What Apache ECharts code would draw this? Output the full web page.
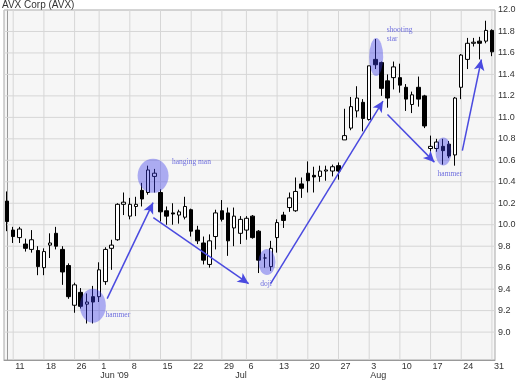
<!DOCTYPE html>
<html><head><meta charset="utf-8">
<script src="https://cdn.jsdelivr.net/npm/echarts@6/dist/echarts.min.js"></script>
<style>html,body{margin:0;padding:0;background:#fff}#c{width:520px;height:390px}</style>
</head><body><div id="c"></div>
<script>
const dates = [
 '2009-05-08','2009-05-11','2009-05-12','2009-05-13','2009-05-14','2009-05-15',
 '2009-05-18','2009-05-19','2009-05-20','2009-05-21','2009-05-22',
 '2009-05-26','2009-05-27','2009-05-28','2009-05-29',
 '2009-06-01','2009-06-02','2009-06-03','2009-06-04','2009-06-05',
 '2009-06-08','2009-06-09','2009-06-10','2009-06-11','2009-06-12',
 '2009-06-15','2009-06-16','2009-06-17','2009-06-18','2009-06-19',
 '2009-06-22','2009-06-23','2009-06-24','2009-06-25','2009-06-26',
 '2009-06-29','2009-06-30','2009-07-01','2009-07-02',
 '2009-07-06','2009-07-07','2009-07-08','2009-07-09','2009-07-10',
 '2009-07-13','2009-07-14','2009-07-15','2009-07-16','2009-07-17',
 '2009-07-20','2009-07-21','2009-07-22','2009-07-23','2009-07-24',
 '2009-07-27','2009-07-28','2009-07-29','2009-07-30','2009-07-31',
 '2009-08-03','2009-08-04','2009-08-05','2009-08-06','2009-08-07',
 '2009-08-10','2009-08-11','2009-08-12','2009-08-13','2009-08-14',
 '2009-08-17','2009-08-18','2009-08-19','2009-08-20','2009-08-21',
 '2009-08-24','2009-08-25','2009-08-26','2009-08-27','2009-08-28',
 '2009-08-31'];
const opens = [10.22,9.95,9.88,9.82,9.77,9.76,9.60,9.81,9.92,9.77,9.62,9.25,9.37,9.26,9.33,
 9.33,9.47,9.78,9.86,10.19,10.08,10.17,10.32,10.30,10.45,10.30,10.13,10.11,10.09,10.07,
 10.14,9.95,9.83,9.63,9.89,10.13,10.11,9.97,9.92,9.95,10.08,9.94,9.69,9.61,9.88,10.09,
 10.16,10.13,10.38,10.48,10.46,10.45,10.50,10.50,10.55,10.79,10.90,11.06,11.14,10.98,
 11.54,11.51,11.34,11.37,11.37,11.28,11.12,11.28,11.20,10.71,10.71,10.73,10.75,10.65,
 11.28,11.54,11.69,11.71,11.71,11.81];
const highs = [10.31,9.98,9.98,9.87,9.95,9.80,9.78,9.92,9.98,9.80,9.64,9.46,9.41,9.36,9.43,
 9.65,9.79,9.86,10.20,10.30,10.25,10.26,10.39,10.55,10.52,10.33,10.17,10.20,10.14,10.26,
 10.15,9.99,9.89,9.91,10.14,10.23,10.16,10.16,10.08,10.08,10.09,9.95,9.73,9.85,10.05,10.12,
 10.30,10.44,10.44,10.59,10.54,10.55,10.55,10.56,10.58,11.08,11.19,11.29,11.17,11.48,
 11.73,11.52,11.40,11.52,11.50,11.31,11.24,11.38,11.21,10.83,10.80,10.80,10.78,11.19,
 11.59,11.74,11.74,11.75,11.90,11.82];
const lows = [9.94,9.83,9.83,9.75,9.74,9.53,9.53,9.69,9.77,9.44,9.31,9.18,9.22,9.08,9.08,
 9.28,9.44,9.58,9.85,10.09,10.05,10.08,10.17,10.28,10.30,10.03,10.00,10.00,10.01,10.05,
 9.89,9.82,9.63,9.60,9.77,10.03,9.71,9.80,9.82,9.86,9.87,9.55,9.60,9.57,9.74,9.97,
 10.12,10.12,10.25,10.30,10.30,10.40,10.41,10.45,10.42,10.79,10.88,11.00,10.87,10.97,
 11.45,11.20,11.09,11.26,11.23,11.06,11.04,11.10,10.90,10.68,10.68,10.56,10.62,10.55,
 11.17,11.45,11.66,11.54,11.69,11.57];
const closes = [10.03,9.89,9.96,9.78,9.86,9.61,9.75,9.83,9.80,9.56,9.33,9.44,9.24,9.28,9.28,
 9.58,9.77,9.81,10.19,10.21,10.19,10.19,10.24,10.51,10.48,10.12,10.08,10.10,10.12,10.17,
 9.94,9.85,9.67,9.85,10.11,10.05,9.85,10.08,10.05,10.06,9.88,9.67,9.69,9.78,10.02,10.04,
 10.25,10.31,10.34,10.41,10.445,10.50,10.51,10.54,10.50,10.83,11.10,11.18,10.99,11.48,
 11.49,11.27,11.18,11.47,11.30,11.17,11.21,11.17,10.92,10.73,10.77,10.69,10.64,11.18,
 11.58,11.69,11.70,11.69,11.81,11.61];
const weekTicks = ['2009-05-11','2009-05-18','2009-05-26','2009-06-01','2009-06-08','2009-06-15',
 '2009-06-22','2009-06-29','2009-07-06','2009-07-13','2009-07-20','2009-07-27','2009-08-03',
 '2009-08-10','2009-08-17','2009-08-24','2009-08-31'];
const monthTicks = ['2009-06-01','2009-07-01','2009-08-03'];
const monthLabels = ["Jun '09",'Jul','Aug'];
const yTicks = [9.0,9.2,9.4,9.6,9.8,10.0,10.2,10.4,10.6,10.8,11.0,11.2,11.4,11.6,11.8,12.0];
// annotations (x = fractional trading-day index, y = price)
const patternNames = ['hammer','hanging man','doji','shooting\nstar','hammer'];
const circleCenters = [[13.98,9.246],[23.79,10.455],[42.34,9.653],[60.14,11.562],[71.09,10.681]];
const labelPositions = [[18.05,9.162],[30.04,10.582],[42.2,9.451],[61.77,11.767],[72.15,10.473]];
const arrowStarts = [[16.31,9.311],[23.83,10.066],[42.94,9.451],[61.98,11.026],[74.18,10.69]];
const arrowEnds = [[23.79,10.206],[39.36,9.451],[61.25,11.152],[69.63,10.583],[77.28,11.539]];

const circleSizes = [[26,34],[31,34],[17,26],[14,38],[16,28]];
const labelAligns = ['center','center','center','left','center'];

const X_MIN = -0.5, X_MAX = dates.length - 0.5, Y_MIN = 8.74, Y_MAX = 12;
const ohlc = dates.map((d,i)=>[opens[i],closes[i],lows[i],highs[i]]);
const isWeek = (i)=>weekTicks.indexOf(dates[i])>=0;
const isMonth = (i)=>monthTicks.indexOf(dates[i])>=0;
const axisFont = {fontSize:9,color:'#333',fontFamily:'Liberation Sans, Arial, sans-serif'};
const gridRect = {left:4,right:25,top:10,bottom:30};
const annoColor = '#4a4ae0';
const weekIdx = weekTicks.map(d=>dates.indexOf(d));

const gridLineSegs = weekIdx.map(k=>[[k,Y_MIN],[k,Y_MAX]])
  .concat(yTicks.map(v=>[[X_MIN,v],[X_MAX,v]]));
const gridSeries = gridLineSegs.map(seg=>({
  type:'line',xAxisIndex:1,yAxisIndex:0,data:seg,z:6,silent:true,symbol:'none',
  showSymbol:false,clip:true,lineStyle:{color:'#d6d6d6',width:1},emphasis:{disabled:true}}));

const chart = echarts.init(document.getElementById('c'),null,{renderer:'canvas'});
chart.setOption({
  animation:false,
  backgroundColor:'#fff',
  title:{text:'AVX Corp (AVX)',left:2,top:0,padding:0,
    textStyle:{fontSize:10,fontWeight:'normal',color:'#333',fontFamily:'Liberation Sans, Arial, sans-serif'}},
  grid:[
    Object.assign({show:true,backgroundColor:'#f6f6f6',borderColor:'#a8a8a8',borderWidth:1},gridRect),
    Object.assign({show:false},gridRect)
  ],
  xAxis:[
    {type:'category',gridIndex:0,data:dates,boundaryGap:true,position:'bottom',
      axisLine:{lineStyle:{color:'#999'}},
      axisTick:{interval:(i)=>isWeek(i),alignWithLabel:true,length:9,lineStyle:{color:'#999'}},
      axisLabel:Object.assign({interval:(i)=>isWeek(i),formatter:(v)=>String(parseInt(v.slice(8),10)),
        align:'left',verticalAlign:'middle',margin:7,padding:[0,0,0,2]},axisFont),
      splitLine:{show:false}},
    {type:'value',gridIndex:0,min:X_MIN,max:X_MAX,position:'top',show:false},
    {type:'category',gridIndex:1,data:dates,boundaryGap:true,position:'bottom',
      axisLine:{show:false},
      axisTick:{interval:(i)=>isMonth(i),alignWithLabel:true,length:18,lineStyle:{color:'#999'}},
      axisLabel:Object.assign({interval:(i)=>isMonth(i),formatter:(v)=>{const k=monthTicks.indexOf(v);return k>=0?monthLabels[k]:'';},
        align:'left',verticalAlign:'middle',margin:16,padding:[0,0,0,1]},axisFont),
      splitLine:{show:false}}
  ],
  yAxis:[
    {type:'value',gridIndex:0,position:'right',min:Y_MIN,max:Y_MAX,
      axisLine:{show:true,lineStyle:{color:'#999'}},
      axisTick:{show:false,customValues:yTicks},
      axisLabel:Object.assign({customValues:yTicks,formatter:(v)=>Number(v).toFixed(1),margin:3},axisFont),
      splitLine:{show:false}},
    {type:'value',gridIndex:1,min:0,max:1,show:false}
  ],
  series:gridSeries.concat([
    {type:'candlestick',xAxisIndex:0,yAxisIndex:0,data:ohlc,barWidth:4,z:10,
      itemStyle:{color:'#fff',color0:'#000',borderColor:'#000',borderColor0:'#000',borderWidth:1},
      emphasis:{disabled:true}},
    {type:'scatter',xAxisIndex:1,yAxisIndex:0,silent:true,z:11,
      data:circleCenters.map((c,i)=>({value:c,symbolSize:circleSizes[i]})),
      symbol:'circle',itemStyle:{color:'rgba(60,60,235,0.5)'},
      markLine:{silent:true,z:12,symbol:['none','arrow'],symbolSize:[8,11],label:{show:false},
        lineStyle:{color:annoColor,width:1.5,type:'solid'},
        data:arrowStarts.map((s,i)=>[{coord:s},{coord:arrowEnds[i]}])}},
    {type:'scatter',xAxisIndex:1,yAxisIndex:0,silent:true,z:12,symbolSize:1,
      itemStyle:{color:'rgba(0,0,0,0)'},
      data:labelPositions.map((p,i)=>({value:p,name:patternNames[i],
        label:{show:true,formatter:'{b}',position:labelAligns[i]==='left'?'right':'inside',distance:0,
          align:labelAligns[i],verticalAlign:'middle',lineHeight:9,
          fontSize:7.5,color:'#4b4bd8',fontFamily:'Liberation Serif, Times New Roman, serif'}}))}
  ])
});
</script></body></html>
